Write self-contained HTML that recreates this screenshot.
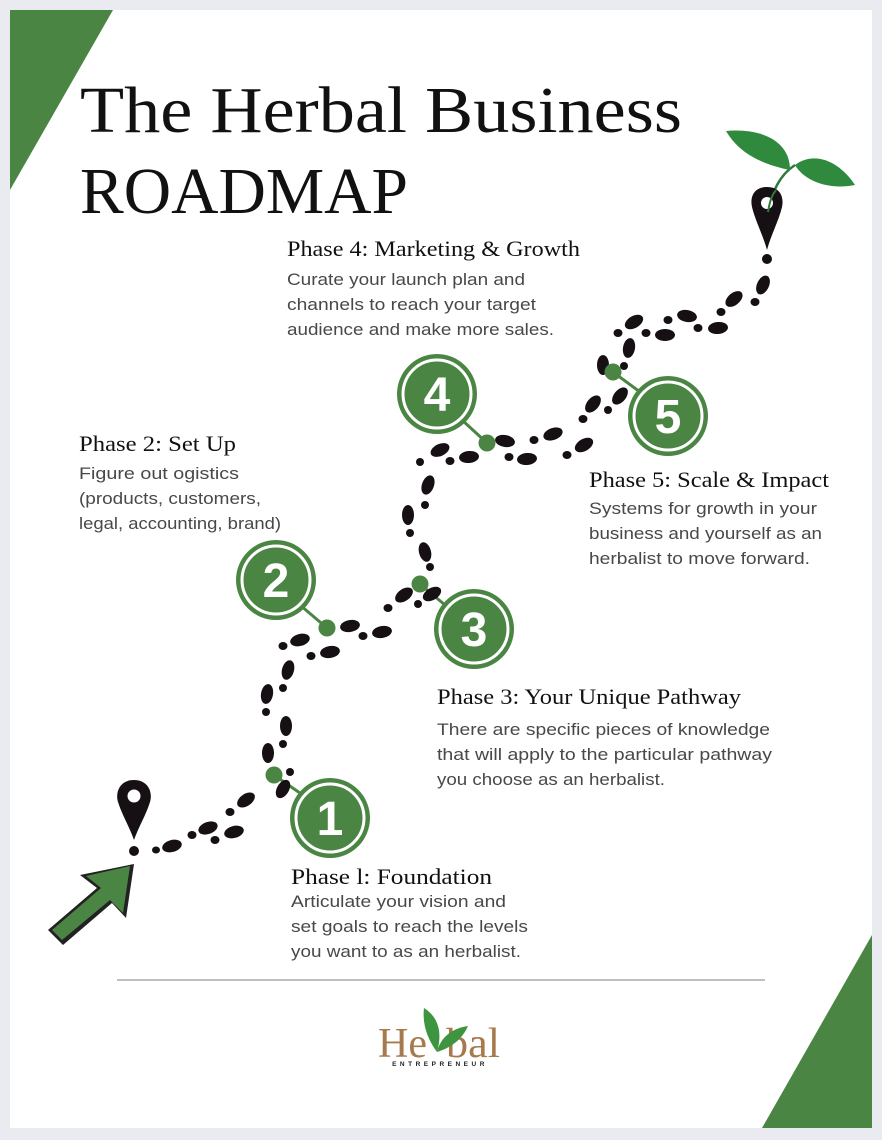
<!DOCTYPE html>
<html><head><meta charset="utf-8"><style>
html,body{margin:0;padding:0;background:#e9ebf0;}
svg{display:block}
.h{font-family:"Liberation Serif",serif;fill:#111;}
.b{font-family:"Liberation Sans",sans-serif;fill:#484848;font-size:16.5px;}
</style></head><body>
<svg width="882" height="1140" viewBox="0 0 882 1140" xmlns="http://www.w3.org/2000/svg">
<rect x="0" y="0" width="882" height="1140" fill="#e9ebf0"/>
<rect x="10" y="10" width="862" height="1118" fill="#fff"/>
<polygon points="10,10 113,10 10,190" fill="#4b8543"/>
<polygon points="872,935 872,1128 762,1128" fill="#4b8543"/>

<text class="h" x="80" y="132" font-size="66" textLength="602" lengthAdjust="spacingAndGlyphs">The  Herbal Business</text>
<text class="h" x="80" y="213" font-size="66" textLength="328" lengthAdjust="spacingAndGlyphs">ROADMAP</text>

<!-- sprout -->
<path d="M768,215 C772,190 780,175 795,165" stroke="#2f7a3a" stroke-width="2.5" fill="none"/>
<path d="M726,131 C760,128 790,140 790,170 C765,165 740,155 726,131Z" fill="#2f8a3e"/>
<path d="M795,165 C815,150 840,162 855,185 C830,190 805,182 795,165Z" fill="#2f8a3e"/>
<path d="M767,187 C753,187 750,198 752,207 C755,220 763,235 767,250 C771,235 779,220 782,207 C784,198 781,187 767,187Z" fill="#161014"/>
<circle cx="767" cy="203" r="6" fill="#fff"/>
<path d="M768,212 C770,200 772,195 776,190" stroke="#2f7a3a" stroke-width="2" fill="none"/>
<circle cx="767" cy="259" r="5" fill="#161014"/>

<path d="M134,780 C120,780 115,792 118,802 C122,815 130,828 134,840 C138,828 146,815 150,802 C153,792 148,780 134,780Z" fill="#161014"/>
<circle cx="134" cy="796" r="6.5" fill="#fff"/>
<circle cx="134" cy="851" r="5" fill="#161014"/>
<polygon points="134,864 126,918 112,903 63,945 48,930 97,888 80,875" fill="#222"/>
<polygon points="130,866 123,913 110,900 62,940 52,930 101,888 86,876" fill="#4b8543"/>

<g stroke="#4b8543" stroke-width="3">
<line x1="274" y1="775" x2="310" y2="800"/>
<line x1="327" y1="628" x2="300" y2="605"/>
<line x1="420" y1="584" x2="445" y2="605"/>
<line x1="487" y1="443" x2="462" y2="420"/>
<line x1="613" y1="372" x2="640" y2="392"/>
</g>

<g fill="#161014">
<ellipse cx="156" cy="850" rx="4" ry="3.5"/>
<ellipse cx="172" cy="846" rx="10" ry="6" transform="rotate(-15 172 846)"/>
<ellipse cx="192" cy="835" rx="4.5" ry="4"/>
<ellipse cx="208" cy="828" rx="10" ry="6" transform="rotate(-20 208 828)"/>
<ellipse cx="215" cy="840" rx="4.5" ry="4"/>
<ellipse cx="234" cy="832" rx="10" ry="6" transform="rotate(-15 234 832)"/>
<ellipse cx="230" cy="812" rx="4.5" ry="4"/>
<ellipse cx="246" cy="800" rx="10" ry="6" transform="rotate(-35 246 800)"/>
<ellipse cx="283" cy="789" rx="6" ry="10" transform="rotate(30 283 789)"/>
<ellipse cx="290" cy="772" rx="4" ry="4"/>
<ellipse cx="268" cy="753" rx="6" ry="10"/>
<ellipse cx="283" cy="744" rx="4" ry="4"/>
<ellipse cx="286" cy="726" rx="6" ry="10"/>
<ellipse cx="266" cy="712" rx="4" ry="4"/>
<ellipse cx="267" cy="694" rx="6" ry="10" transform="rotate(10 267 694)"/>
<ellipse cx="283" cy="688" rx="4" ry="4"/>
<ellipse cx="288" cy="670" rx="6" ry="10" transform="rotate(15 288 670)"/>
<ellipse cx="283" cy="646" rx="4.5" ry="4"/>
<ellipse cx="300" cy="640" rx="10" ry="6" transform="rotate(-15 300 640)"/>
<ellipse cx="311" cy="656" rx="4.5" ry="4"/>
<ellipse cx="330" cy="652" rx="10" ry="6" transform="rotate(-10 330 652)"/>
<ellipse cx="350" cy="626" rx="10" ry="6" transform="rotate(-10 350 626)"/>
<ellipse cx="363" cy="636" rx="4.5" ry="4"/>
<ellipse cx="382" cy="632" rx="10" ry="6" transform="rotate(-10 382 632)"/>
<ellipse cx="388" cy="608" rx="4.5" ry="4"/>
<ellipse cx="404" cy="595" rx="10" ry="6" transform="rotate(-35 404 595)"/>
<ellipse cx="432" cy="594" rx="10" ry="6" transform="rotate(-30 432 594)"/>
<ellipse cx="418" cy="604" rx="4" ry="4"/>
<ellipse cx="430" cy="567" rx="4" ry="4"/>
<ellipse cx="425" cy="552" rx="6" ry="10" transform="rotate(-15 425 552)"/>
<ellipse cx="410" cy="533" rx="4" ry="4"/>
<ellipse cx="408" cy="515" rx="6" ry="10"/>
<ellipse cx="425" cy="505" rx="4" ry="4"/>
<ellipse cx="428" cy="485" rx="6" ry="10" transform="rotate(20 428 485)"/>
<ellipse cx="420" cy="462" rx="4" ry="4"/>
<ellipse cx="440" cy="450" rx="10" ry="6" transform="rotate(-25 440 450)"/>
<ellipse cx="450" cy="461" rx="4.5" ry="4"/>
<ellipse cx="469" cy="457" rx="10" ry="6" transform="rotate(-5 469 457)"/>
<ellipse cx="505" cy="441" rx="10" ry="6" transform="rotate(10 505 441)"/>
<ellipse cx="509" cy="457" rx="4.5" ry="4"/>
<ellipse cx="527" cy="459" rx="10" ry="6" transform="rotate(-5 527 459)"/>
<ellipse cx="534" cy="440" rx="4.5" ry="4"/>
<ellipse cx="553" cy="434" rx="10" ry="6" transform="rotate(-20 553 434)"/>
<ellipse cx="567" cy="455" rx="4.5" ry="4"/>
<ellipse cx="584" cy="445" rx="10" ry="6" transform="rotate(-30 584 445)"/>
<ellipse cx="583" cy="419" rx="4.5" ry="4"/>
<ellipse cx="593" cy="404" rx="6" ry="10" transform="rotate(40 593 404)"/>
<ellipse cx="608" cy="410" rx="4" ry="4"/>
<ellipse cx="620" cy="396" rx="6" ry="10" transform="rotate(40 620 396)"/>
<ellipse cx="603" cy="365" rx="6" ry="10"/>
<ellipse cx="624" cy="366" rx="4" ry="4"/>
<ellipse cx="629" cy="348" rx="6" ry="10" transform="rotate(10 629 348)"/>
<ellipse cx="618" cy="333" rx="4.5" ry="4"/>
<ellipse cx="634" cy="322" rx="10" ry="6" transform="rotate(-30 634 322)"/>
<ellipse cx="646" cy="333" rx="4.5" ry="4"/>
<ellipse cx="665" cy="335" rx="10" ry="6"/>
<ellipse cx="668" cy="320" rx="4.5" ry="4"/>
<ellipse cx="687" cy="316" rx="10" ry="6" transform="rotate(10 687 316)"/>
<ellipse cx="698" cy="328" rx="4.5" ry="4"/>
<ellipse cx="718" cy="328" rx="10" ry="6" transform="rotate(-5 718 328)"/>
<ellipse cx="721" cy="312" rx="4.5" ry="4"/>
<ellipse cx="734" cy="299" rx="10" ry="6" transform="rotate(-40 734 299)"/>
<ellipse cx="755" cy="302" rx="4.5" ry="4"/>
<ellipse cx="763" cy="285" rx="6" ry="10" transform="rotate(25 763 285)"/>
</g>

<g fill="#4b8543">
<circle cx="274" cy="775" r="8.5"/>
<circle cx="327" cy="628" r="8.5"/>
<circle cx="420" cy="584" r="8.5"/>
<circle cx="487" cy="443" r="8.5"/>
<circle cx="613" cy="372" r="8.5"/>
</g>

<g font-family="Liberation Sans,sans-serif" font-weight="bold" font-size="48" fill="#fff" text-anchor="middle">
<g><circle cx="330" cy="818" r="40" fill="#4b8543"/><circle cx="330" cy="818" r="34" fill="none" stroke="#fff" stroke-width="3"/><text x="330" y="835">1</text></g>
<g><circle cx="276" cy="580" r="40" fill="#4b8543"/><circle cx="276" cy="580" r="34" fill="none" stroke="#fff" stroke-width="3"/><text x="276" y="597">2</text></g>
<g><circle cx="474" cy="629" r="40" fill="#4b8543"/><circle cx="474" cy="629" r="34" fill="none" stroke="#fff" stroke-width="3"/><text x="474" y="646">3</text></g>
<g><circle cx="437" cy="394" r="40" fill="#4b8543"/><circle cx="437" cy="394" r="34" fill="none" stroke="#fff" stroke-width="3"/><text x="437" y="411">4</text></g>
<g><circle cx="668" cy="416" r="40" fill="#4b8543"/><circle cx="668" cy="416" r="34" fill="none" stroke="#fff" stroke-width="3"/><text x="668" y="433">5</text></g>
</g>

<text class="h" x="287" y="256" font-size="22" textLength="293" lengthAdjust="spacingAndGlyphs">Phase 4: Marketing &amp; Growth</text>
<text class="b" x="287" y="285" textLength="238" lengthAdjust="spacingAndGlyphs">Curate your launch plan and</text>
<text class="b" x="287" y="310" textLength="249" lengthAdjust="spacingAndGlyphs">channels to reach your target</text>
<text class="b" x="287" y="335" textLength="267" lengthAdjust="spacingAndGlyphs">audience and make more sales.</text>

<text class="h" x="79" y="451" font-size="22" textLength="157" lengthAdjust="spacingAndGlyphs">Phase 2: Set Up</text>
<text class="b" x="79" y="479" textLength="160" lengthAdjust="spacingAndGlyphs">Figure out  ogistics</text>
<text class="b" x="79" y="504" textLength="182" lengthAdjust="spacingAndGlyphs">(products, customers,</text>
<text class="b" x="79" y="529" textLength="202" lengthAdjust="spacingAndGlyphs">legal, accounting, brand)</text>

<text class="h" x="589" y="487" font-size="22" textLength="240" lengthAdjust="spacingAndGlyphs">Phase 5: Scale &amp; Impact</text>
<text class="b" x="589" y="514" textLength="228" lengthAdjust="spacingAndGlyphs">Systems for growth in your</text>
<text class="b" x="589" y="539" textLength="233" lengthAdjust="spacingAndGlyphs">business and yourself as an</text>
<text class="b" x="589" y="564" textLength="221" lengthAdjust="spacingAndGlyphs">herbalist to move forward.</text>

<text class="h" x="437" y="704" font-size="22" textLength="304" lengthAdjust="spacingAndGlyphs">Phase 3: Your Unique Pathway</text>
<text class="b" x="437" y="735" textLength="333" lengthAdjust="spacingAndGlyphs">There are specific pieces of knowledge</text>
<text class="b" x="437" y="760" textLength="335" lengthAdjust="spacingAndGlyphs">that will apply to the particular pathway</text>
<text class="b" x="437" y="785" textLength="228" lengthAdjust="spacingAndGlyphs">you choose as an herbalist.</text>

<text class="h" x="291" y="884" font-size="22" textLength="201" lengthAdjust="spacingAndGlyphs">Phase l: Foundation</text>
<text class="b" x="291" y="907" textLength="215" lengthAdjust="spacingAndGlyphs">Articulate your vision and</text>
<text class="b" x="291" y="932" textLength="237" lengthAdjust="spacingAndGlyphs">set goals to reach the levels</text>
<text class="b" x="291" y="957" textLength="230" lengthAdjust="spacingAndGlyphs">you want to as an herbalist.</text>

<line x1="117" y1="980" x2="765" y2="980" stroke="#999" stroke-width="1.2"/>

<text x="378" y="1057" font-family="Liberation Serif,serif" font-size="42" fill="#a77a4e">He</text>
<text x="446" y="1057" font-family="Liberation Serif,serif" font-size="42" fill="#a77a4e" textLength="54" lengthAdjust="spacingAndGlyphs">bal</text>
<path d="M424,1008 C440,1018 442,1035 437,1052 C428,1040 422,1025 424,1008Z" fill="#3f9440"/>
<path d="M437,1052 C440,1038 452,1028 468,1026 C462,1040 450,1048 437,1052Z" fill="#3f9440"/>
<text x="440" y="1066" font-family="Liberation Sans,sans-serif" font-size="6.5" font-weight="bold" letter-spacing="3.5" fill="#222" text-anchor="middle">ENTREPRENEUR</text>
</svg>
</body></html>
